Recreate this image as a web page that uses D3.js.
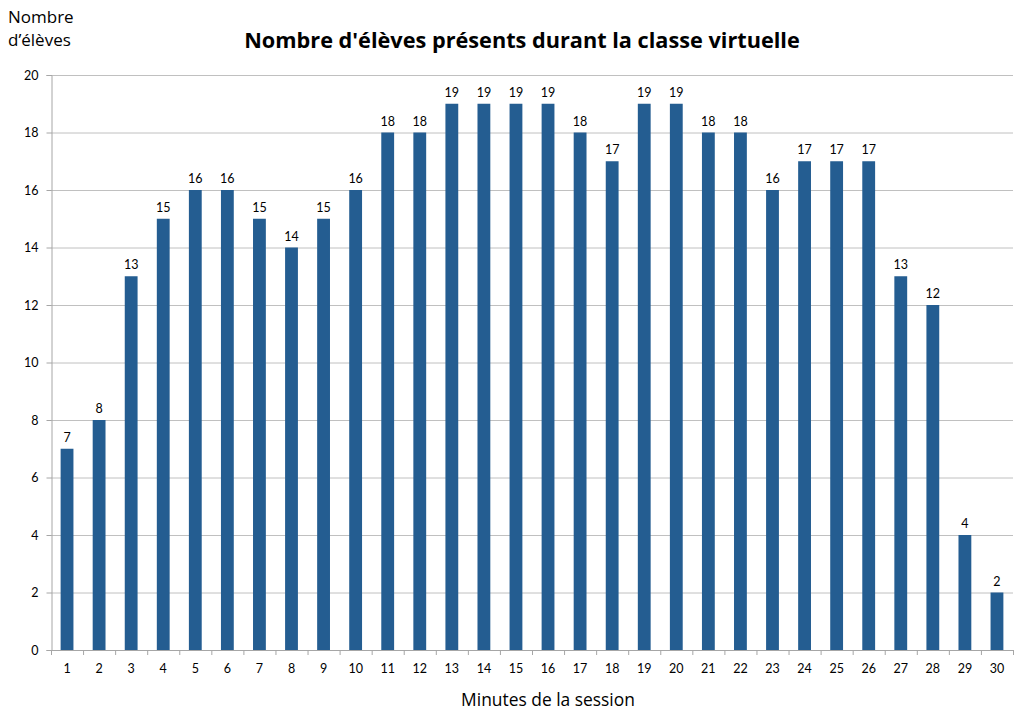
<!DOCTYPE html>
<html><head><meta charset="utf-8">
<script src="https://cdn.jsdelivr.net/npm/d3@7"></script>
<style>body{margin:0;background:#fff;} svg{display:block;font-family:Lato,"Open Sans",sans-serif;}</style>
</head><body>
<svg id="c" width="1023" height="717"></svg>
<script>
const minutes = d3.range(1, 31).map(String);
const eleves = [7,8,13,15,16,16,15,14,15,16,18,18,19,19,19,19,18,17,19,19,18,18,16,17,17,17,13,12,4,2];
const yTicks = [0,2,4,6,8,10,12,14,16,18,20];
const title = "Nombre d'élèves présents durant la classe virtuelle";
const xTitle = "Minutes de la session";
const yTitle = ["Nombre", "d\u2019élèves"];

const svg = d3.select("#c");
const L = 51, R = 1013, T = 75, B = 650;
const x = d3.scaleBand().domain(minutes).range([L, R]).paddingInner(0.6).paddingOuter(0.3);
const y = d3.scaleLinear().domain([0, 20]).range([B, T]);

// gridlines
svg.append("g").selectAll("line").data(yTicks.filter(d => d > 0)).join("line")
  .attr("x1", L).attr("x2", R).attr("y1", d => y(d) + 0.5).attr("y2", d => y(d) + 0.5)
  .attr("stroke", "#c0c0c0").attr("stroke-width", 1);

// bars
svg.append("g").selectAll("rect").data(eleves).join("rect")
  .attr("x", (d, i) => x(minutes[i])).attr("width", x.bandwidth())
  .attr("y", d => y(d)).attr("height", d => B - y(d))
  .attr("fill", "#245d91");

// value labels
svg.append("g").selectAll("text").data(eleves).join("text")
  .attr("x", (d, i) => x(minutes[i]) + x.bandwidth() / 2)
  .attr("y", d => y(d) - 7)
  .attr("text-anchor", "middle").attr("font-size", 12.5).attr("fill", "#000")
  .text(d => d);

// y axis
const ya = svg.append("g").attr("transform", `translate(${L + 0.5},0)`)
  .call(d3.axisLeft(y).tickValues(yTicks).tickSize(5).tickPadding(8));
ya.select(".domain").attr("stroke", "#a6a6a6");
ya.selectAll(".tick line").attr("stroke", "#a6a6a6");
ya.selectAll(".tick text").attr("font-size", 12.5).attr("fill", "#000").attr("font-family", "Lato,sans-serif");

// x axis
const xa = svg.append("g").attr("transform", `translate(0,${B + 0.5})`)
  .call(d3.axisBottom(x).tickSize(0).tickPadding(14));
xa.select(".domain").attr("stroke", "#a6a6a6").attr("d", `M${L},0H${R}`);
xa.selectAll(".tick text").attr("font-size", 12.5).attr("fill", "#000").attr("font-family", "Lato,sans-serif");
svg.append("g").selectAll("line").data(d3.range(0, 31)).join("line")
  .attr("x1", d => L + d * (R - L) / 30 + 0.5).attr("x2", d => L + d * (R - L) / 30 + 0.5)
  .attr("y1", B).attr("y2", B + 5).attr("stroke", "#a6a6a6");

// titles
svg.append("text").attr("x", 522).attr("y", 48).attr("text-anchor", "middle")
  .attr("font-family", "'Open Sans',sans-serif")
  .attr("font-size", 21.7).attr("font-weight", "bold").attr("fill", "#000").text(title);
svg.append("text").attr("x", 548).attr("y", 706).attr("text-anchor", "middle")
  .attr("font-family", "'Open Sans',sans-serif")
  .attr("font-size", 17.4).attr("fill", "#000").text(xTitle);
svg.append("text").attr("font-size", 17).attr("fill", "#000")
  .attr("font-family", "'Open Sans',sans-serif")
  .selectAll("tspan").data(yTitle).join("tspan")
  .attr("x", 8).attr("y", (d, i) => 23 + i * 23).text(d => d);
</script>
</body></html>
